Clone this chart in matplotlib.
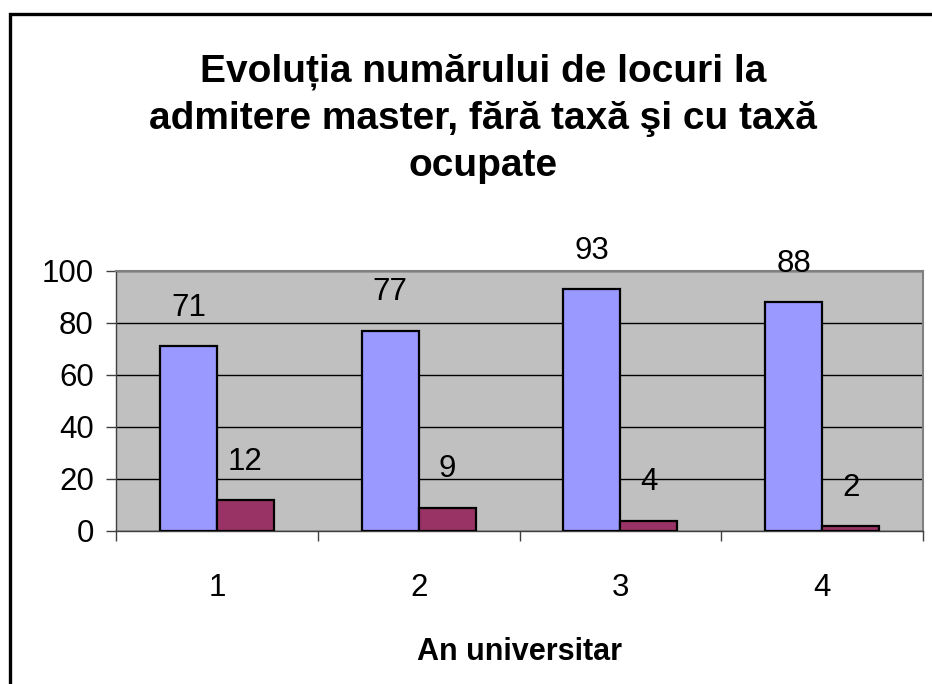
import matplotlib.pyplot as plt
from matplotlib.patches import Rectangle
import numpy as np

plt.rcParams['font.family'] = ['Liberation Sans', 'DejaVu Sans']

years = [1, 2, 3, 4]
fara_taxa = [71, 77, 93, 88]
cu_taxa = [12, 9, 4, 2]
y_ticks = [0, 20, 40, 60, 80, 100]
title = "Evoluția numărului de locuri la\nadmitere master, fără taxă şi cu taxă\nocupate"

W, H = 932, 684
fig = plt.figure(figsize=(W / 100, H / 100), dpi=100)

# outer chart frame (runs off the right and bottom edge)
fig.patches.append(Rectangle((10 / W, -0.05), 1.0, (H - 14) / H + 0.05,
                             transform=fig.transFigure, fill=False,
                             edgecolor='black', linewidth=2.4))

ax = fig.add_axes([116 / W, (H - 531) / H, 807 / W, (531 - 270.7) / H])
ax.set_facecolor('#C0C0C0')

x = np.array(years)
w = 0.283
b1 = ax.bar(x - w / 2, fara_taxa, w, color='#9999FF', edgecolor='black', linewidth=1.6, zorder=3)
b2 = ax.bar(x + w / 2, cu_taxa, w, color='#993366', edgecolor='black', linewidth=1.6, zorder=3)

for bars, vals in ((b1, fara_taxa), (b2, cu_taxa)):
    for r, v in zip(bars, vals):
        ax.annotate(str(v), (r.get_x() + r.get_width() / 2, r.get_height()),
                    xytext=(0, 27.5), textcoords='offset points',
                    ha='center', va='center', fontsize=22.5, annotation_clip=False)

ax.set_xlim(0.5, 4.5)
ax.set_ylim(0, 100)
ax.set_yticks(y_ticks)
ax.yaxis.grid(True, color='black', linewidth=1)
ax.set_axisbelow(True)

ax.set_xticks([0.5, 1.5, 2.5, 3.5, 4.5])
ax.set_xticklabels([])
ax.set_xticks(years, minor=True)
ax.set_xticklabels([str(v) for v in years], minor=True)
ax.tick_params(axis='x', which='major', direction='out', length=7, width=1, color='#404040')
ax.tick_params(axis='x', which='minor', length=0, pad=30, labelsize=22.5)
ax.tick_params(axis='y', direction='out', length=7, width=1, color='#404040', labelsize=22.5, pad=9)

for s in ('top', 'right'):
    ax.spines[s].set_color('#808080')
    ax.spines[s].set_linewidth(1.5)
for s in ('left', 'bottom'):
    ax.spines[s].set_color('#404040')
    ax.spines[s].set_linewidth(1)

ax.set_xlabel('An universitar', fontsize=22, fontweight='bold', va='center')
ax.xaxis.set_label_coords(0.5, (531 - 652) / (531 - 270.7))

fig.text(483 / W, 1 - 119 / H, title, ha='center', va='center',
         fontsize=28, fontweight='bold', linespacing=1.39)

fig.savefig('out.png', dpi=100)
